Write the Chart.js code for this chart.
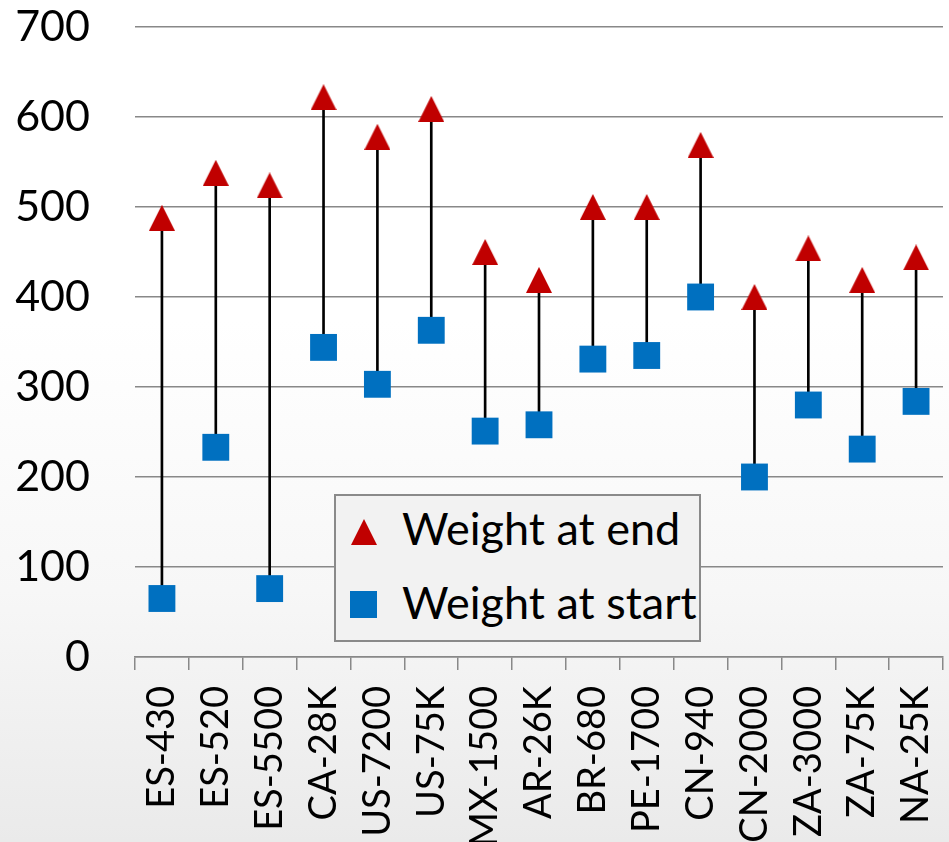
<!DOCTYPE html>
<html>
<head>
<meta charset="utf-8">
<title>Weight at start / end</title>
<script src="https://cdn.jsdelivr.net/npm/chart.js@4.4.1/dist/chart.umd.min.js"></script>
<style>
    html, body { margin: 0; padding: 0; }
    body { width: 949px; height: 842px; overflow: hidden; }
    .chart-wrap {
        position: relative;
        width: 949px;
        height: 842px;
        background: linear-gradient(to bottom, #ffffff 0%, #ffffff 38%, #f7f7f7 70%, #eaeaea 100%);
    }
    .leyenda {
        position: absolute;
        left: 334px;
        top: 494px;
        width: 367px;
        height: 148px;
        box-sizing: border-box;
        border: 2px solid #8a8a8a;
        background: #f2f2f2;
    }
    .leyenda span {
        position: absolute;
        left: 66px;
        font-family: Lato, sans-serif;
        font-size: 45px;
        line-height: 54px;
        color: #000;
        white-space: nowrap;
    }
    .leyenda svg { position: absolute; }
</style>
</head>
<body>
<div class="chart-wrap">
    <canvas id="chartPesos" width="949" height="842"></canvas>
    <div class="leyenda" id="leyenda"></div>
</div>
<script>
// Datos
const categorias = ['ES-430', 'ES-520', 'ES-5500', 'CA-28K', 'US-7200', 'US-75K', 'MX-1500', 'AR-26K',
    'BR-680', 'PE-1700', 'CN-940', 'CN-2000', 'ZA-3000', 'ZA-75K', 'NA-25K']
const pesoFinal = [488, 538, 524, 622, 578, 609, 450, 419, 500, 500, 569, 400, 454, 419, 444]
const pesoInicial = [65, 233, 76, 344, 303, 363, 251, 258, 331, 335, 400, 200, 280, 231, 284]
const nombresSeries = ['Weight at end', 'Weight at start']
const yMin = 0
const yMax = 700
const yPaso = 100

const rojo = '#c00000'
const azul = '#0070c0'
const gris = '#888888'

// Triángulo como imagen, centrado en el valor (igual que el marcador de Excel)
function crearTriangulo(color, lado) {
    const c = document.createElement('canvas')
    c.width = lado
    c.height = lado
    const ctx = c.getContext('2d')
    ctx.fillStyle = color
    ctx.beginPath()
    ctx.moveTo(lado / 2, 0)
    ctx.lineTo(lado, lado)
    ctx.lineTo(0, lado)
    ctx.closePath()
    ctx.fill()
    return c
}

const triangulo = crearTriangulo(rojo, 26)
const rangos = pesoInicial.map((v, i) => [v, pesoFinal[i]])

const ctx = document.getElementById('chartPesos').getContext('2d')
new Chart(ctx, {
    type: 'bar',
    data: {
        labels: categorias,
        datasets: [
            {
                type: 'line',
                label: nombresSeries[0],
                data: pesoFinal,
                showLine: false,
                pointStyle: triangulo,
                pointRadius: 13,
                pointHoverRadius: 13,
                backgroundColor: rojo,
                borderColor: rojo
            },
            {
                type: 'line',
                label: nombresSeries[1],
                data: pesoInicial,
                showLine: false,
                pointStyle: 'rect',
                pointRadius: 19,
                pointHoverRadius: 19,
                pointBorderWidth: 0,
                backgroundColor: azul,
                borderColor: azul
            },
            {
                // líneas máximo-mínimo
                type: 'bar',
                label: 'rango',
                data: rangos,
                backgroundColor: '#000000',
                barThickness: 2
            }
        ]
    },
    options: {
        responsive: false,
        animation: false,
        events: [],
        layout: {
            autoPadding: false,
            padding: { top: 27, right: 6, left: 0, bottom: 0 }
        },
        plugins: {
            legend: { display: false },
            tooltip: { enabled: false }
        },
        scales: {
            x: {
                offset: true,
                grid: {
                    offset: true,
                    drawOnChartArea: false,
                    drawTicks: true,
                    tickLength: 13,
                    color: gris,
                    lineWidth: 1.5
                },
                border: { color: gris, width: 1.5 },
                ticks: {
                    autoSkip: false,
                    maxRotation: 90,
                    minRotation: 90,
                    padding: 16,
                    color: '#000',
                    font: { family: 'Lato', size: 38 }
                },
                afterFit: (scale) => {
                    scale.height = 185
                    scale.paddingLeft = 0
                    scale.paddingRight = 0
                }
            },
            y: {
                min: yMin,
                max: yMax,
                grid: {
                    color: gris,
                    lineWidth: 1.5,
                    drawTicks: false
                },
                border: { display: false },
                ticks: {
                    stepSize: yPaso,
                    padding: 45,
                    color: '#000',
                    font: { family: 'Lato', size: 43 }
                },
                afterFit: (scale) => {
                    scale.width = 135
                    scale.paddingTop = 0
                    scale.paddingBottom = 0
                }
            }
        }
    }
})

// Leyenda dentro del área del gráfico
const leyenda = document.getElementById('leyenda')
leyenda.innerHTML =
    '<svg style="left:15px;top:23px" width="26" height="26"><polygon points="13,0 26,26 0,26" fill="' + rojo + '"/></svg>' +
    '<span style="top:5px">' + nombresSeries[0] + '</span>' +
    '<svg style="left:14px;top:95px" width="27" height="27"><rect width="27" height="27" fill="' + azul + '"/></svg>' +
    '<span style="top:79px">' + nombresSeries[1] + '</span>'
</script>
</body>
</html>
